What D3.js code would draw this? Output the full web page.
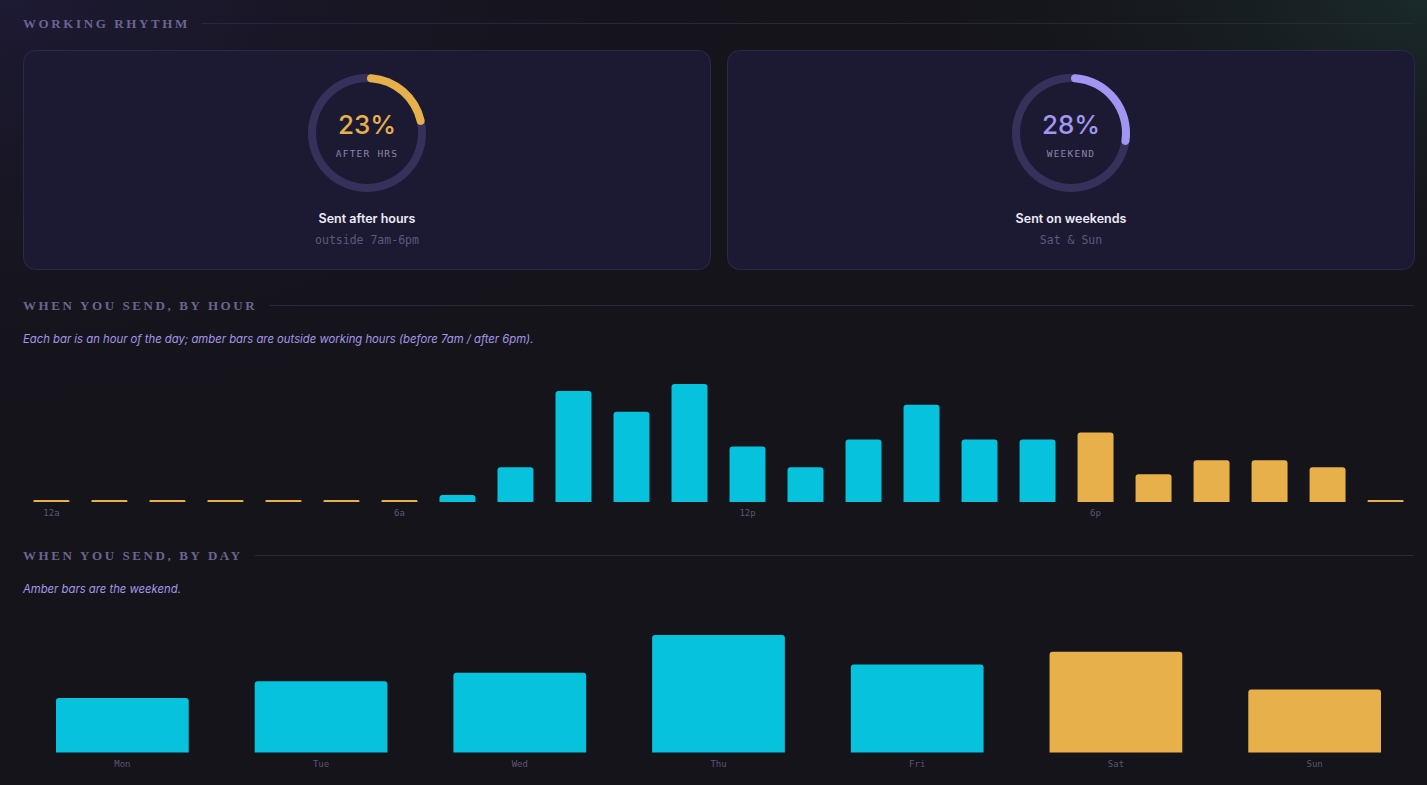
<!DOCTYPE html>
<html>
<head>
<meta charset="utf-8">
<script src="https://cdn.jsdelivr.net/npm/d3@7"></script>
<style>
  html, body { margin: 0; padding: 0; }
  body {
    width: 1427px; height: 785px; overflow: hidden;
    background: #15141b;
  }
  svg { display: block; }
  .titulo { font-family: "Liberation Serif", "DejaVu Serif", serif; font-weight: 700; font-size: 13px; letter-spacing: 2.6px; fill: #6b6590; }
  .regla { stroke: #292740; stroke-width: 1; }
  .nota { font-family: "Inter", "Noto Sans", sans-serif; font-style: italic; font-size: 11.3px; fill: #a597e6; }
  .mono { font-family: "DejaVu Sans Mono", "Liberation Mono", monospace; }
  .tick { font-size: 9px; fill: #5a5675; }
</style>
</head>
<body>
<svg id="lienzo" width="1427" height="785"></svg>
<script>
// datos
const horas = d3.range(24);
const envios_hora = [0, 0, 0, 0, 0, 0, 0, 1, 5, 16, 13, 17, 8, 5, 9, 14, 9, 9, 10, 4, 6, 6, 5, 0];
const etiquetas_hora = {0: '12a', 6: '6a', 12: '12p', 18: '6p'};
const dias = ['Mon', 'Tue', 'Wed', 'Thu', 'Fri', 'Sat', 'Sun'];
const envios_dia = [13, 17, 19, 28, 21, 24, 15];
const fin_semana = ['Sat', 'Sun'];

const cian = '#06c2dc';
const ambar = '#e8b04a';
const lavanda = '#a197f2';
const pista = '#36315a';

const ancho = 1427;
const izq = 23, der = 1414;

const svg = d3.select('#lienzo');

// fondo con brillos suaves
const defs = svg.append('defs');
const g1 = defs.append('radialGradient').attr('id', 'brillo_izq')
  .attr('cx', '0%').attr('cy', '0%').attr('r', '60%');
g1.append('stop').attr('offset', '0%').attr('stop-color', '#1d1a34');
g1.append('stop').attr('offset', '100%').attr('stop-color', '#15141b').attr('stop-opacity', 0);
const g2 = defs.append('radialGradient').attr('id', 'brillo_der')
  .attr('cx', '100%').attr('cy', '0%').attr('r', '40%');
g2.append('stop').attr('offset', '0%').attr('stop-color', '#1a2a2a');
g2.append('stop').attr('offset', '100%').attr('stop-color', '#15141b').attr('stop-opacity', 0);
svg.append('rect').attr('width', ancho).attr('height', 785).attr('fill', '#15141b');
svg.append('rect').attr('width', ancho).attr('height', 785).attr('fill', 'url(#brillo_izq)');
svg.append('rect').attr('width', ancho).attr('height', 785).attr('fill', 'url(#brillo_der)');

function encabezado(texto, y) {
  const t = svg.append('text').attr('class', 'titulo')
    .attr('x', izq).attr('y', y).text(texto);
  const w = t.node().getComputedTextLength();
  svg.append('line').attr('class', 'regla')
    .attr('x1', izq + w + 12).attr('x2', der)
    .attr('y1', y - 4.5).attr('y2', y - 4.5);
}

// barras con esquinas superiores redondeadas
function barra(x, y, w, h, r) {
  r = Math.min(r, h / 2, w / 2);
  return `M${x},${y + h}V${y + r}Q${x},${y} ${x + r},${y}H${x + w - r}Q${x + w},${y} ${x + w},${y + r}V${y + h}Z`;
}

///////////////////////////////////////
// WORKING RHYTHM

encabezado('WORKING RHYTHM', 28);

const total = d3.sum(envios_hora);
const fuera_horario = d3.sum(horas.filter(h => h < 7 || h >= 18), h => envios_hora[h]);
const total_dias = d3.sum(envios_dia);
const finde = d3.sum(dias.filter(d => fin_semana.includes(d)), d => envios_dia[dias.indexOf(d)]);

const tarjetas = [
  {x: 23, pct: fuera_horario / total, color: ambar, etiqueta: 'AFTER HRS', titulo: 'Sent after hours', sub: 'outside 7am-6pm'},
  {x: 727, pct: finde / total_dias, color: lavanda, etiqueta: 'WEEKEND', titulo: 'Sent on weekends', sub: 'Sat & Sun'}
];
const ancho_tarjeta = 687, alto_tarjeta = 219, y_tarjeta = 50.5;

const arco = d3.arc().innerRadius(51).outerRadius(59).startAngle(0);

tarjetas.forEach(t => {
  const g = svg.append('g');
  g.append('rect')
    .attr('x', t.x + 0.5).attr('y', y_tarjeta)
    .attr('width', ancho_tarjeta).attr('height', alto_tarjeta)
    .attr('rx', 12)
    .attr('fill', '#1c1a33').attr('stroke', '#2b2948');
  const cx = t.x + ancho_tarjeta / 2 + 0.5, cy = 133;
  const dona = g.append('g').attr('transform', `translate(${cx},${cy})`);
  dona.append('path').attr('d', arco.endAngle(2 * Math.PI)()).attr('fill', pista);
  dona.append('path').attr('d', arco.cornerRadius(4).endAngle(2 * Math.PI * t.pct)()).attr('fill', t.color);
  arco.cornerRadius(0);
  dona.append('text').attr('text-anchor', 'middle').attr('y', 1)
    .style('font-family', '"Inter", "Noto Sans", sans-serif')
    .style('font-size', '26px').style('font-weight', 500)
    .attr('fill', t.color)
    .text(Math.round(t.pct * 100) + '%');
  dona.append('text').attr('class', 'mono').attr('text-anchor', 'middle').attr('y', 23.5)
    .style('font-size', '9.5px').style('letter-spacing', '1.2px')
    .attr('fill', '#8b86a8')
    .text(t.etiqueta);
  g.append('text').attr('text-anchor', 'middle').attr('x', cx).attr('y', 223)
    .style('font-family', '"Inter", "Noto Sans", sans-serif')
    .style('font-size', '12.5px').style('font-weight', 600)
    .attr('fill', '#ecebf5')
    .text(t.titulo);
  g.append('text').attr('class', 'mono').attr('text-anchor', 'middle').attr('x', cx).attr('y', 244)
    .style('font-size', '11.5px')
    .attr('fill', '#5d5979')
    .text(t.sub);
});

///////////////////////////////////////
// BY HOUR

encabezado('WHEN YOU SEND, BY HOUR', 310);
svg.append('text').attr('class', 'nota').attr('x', izq).attr('y', 343)
  .text('Each bar is an hour of the day; amber bars are outside working hours (before 7am / after 6pm).');

const base_hora = 502, alto_max = 118;

const escalaX_hora = d3.scaleBand()
  .domain(horas)
  .range([izq, der])
  .paddingInner(0.38)
  .paddingOuter(0.18);

const escalaY_hora = d3.scaleLinear()
  .domain([0, d3.max(envios_hora)])
  .range([base_hora, base_hora - alto_max]);

svg.append('g').selectAll('path')
  .data(horas)
  .join('path')
  .attr('d', h => {
    const y = Math.min(escalaY_hora(envios_hora[h]), base_hora - 2);
    return barra(escalaX_hora(h), y, escalaX_hora.bandwidth(), base_hora - y, 3);
  })
  .attr('fill', h => (h < 7 || h >= 18) ? ambar : cian);

const ejeX_hora = d3.axisBottom(escalaX_hora)
  .tickValues(horas.filter(h => etiquetas_hora[h] !== undefined))
  .tickFormat(h => etiquetas_hora[h])
  .tickSize(0).tickPadding(8);

svg.append('g')
  .attr('transform', `translate(0,${base_hora})`)
  .call(ejeX_hora)
  .call(g => g.select('.domain').remove())
  .selectAll('text')
  .attr('class', 'mono tick');

///////////////////////////////////////
// BY DAY

encabezado('WHEN YOU SEND, BY DAY', 560);
svg.append('text').attr('class', 'nota').attr('x', izq).attr('y', 593)
  .text('Amber bars are the weekend.');

const base_dia = 752.5;

const escalaX_dia = d3.scaleBand()
  .domain(dias)
  .range([izq, der])
  .paddingInner(0.332)
  .paddingOuter(0.166);

const escalaY_dia = d3.scaleLinear()
  .domain([0, d3.max(envios_dia)])
  .range([base_dia, base_dia - 117.5]);

svg.append('g').selectAll('path')
  .data(dias)
  .join('path')
  .attr('d', (d, i) => {
    const y = escalaY_dia(envios_dia[i]);
    return barra(escalaX_dia(d), y, escalaX_dia.bandwidth(), base_dia - y, 3);
  })
  .attr('fill', d => fin_semana.includes(d) ? ambar : cian);

svg.append('g')
  .attr('transform', `translate(0,${base_dia})`)
  .call(d3.axisBottom(escalaX_dia).tickSize(0).tickPadding(8))
  .call(g => g.select('.domain').remove())
  .selectAll('text')
  .attr('class', 'mono tick');
</script>
</body>
</html>
